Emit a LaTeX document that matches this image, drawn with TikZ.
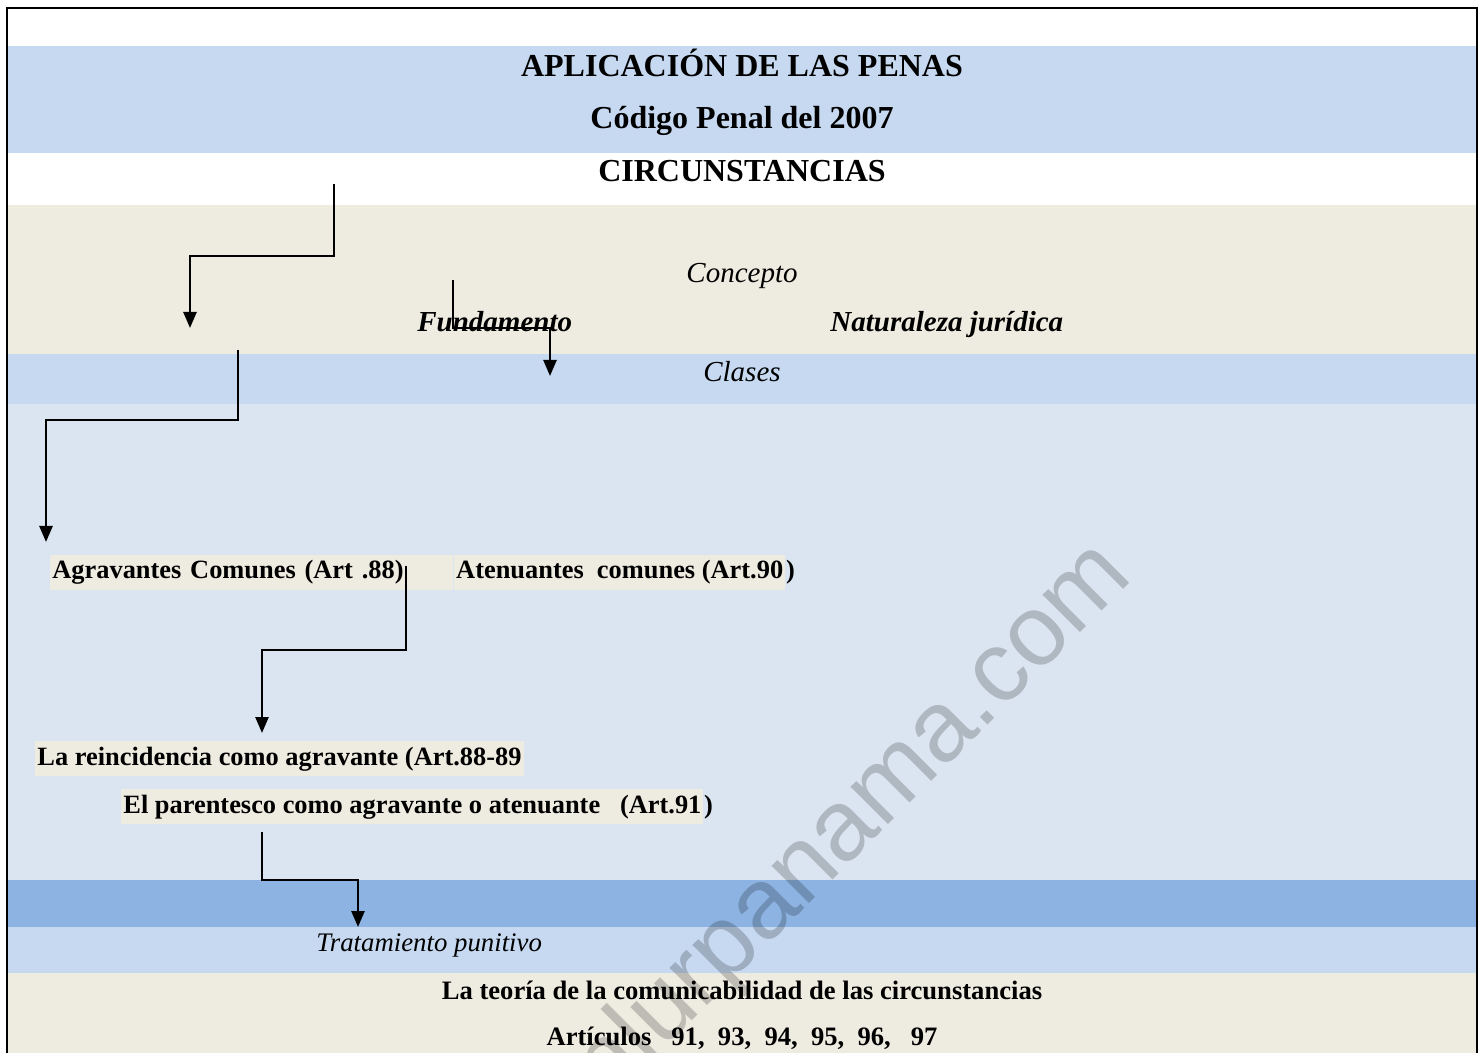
\documentclass[tikz,border=0pt]{standalone}
\usepackage{fontspec}
\setmainfont{Liberation Serif}
\setsansfont{Liberation Sans}
\usetikzlibrary{arrows.meta,positioning}
\definecolor{bandblue}{HTML}{C6D9F1}
\definecolor{paleblue}{HTML}{DBE5F1}
\definecolor{midblue}{HTML}{8DB3E2}
\definecolor{beige}{HTML}{EEECE1}
\tikzset{>={Triangle[width=6.5pt,length=8pt]}}

\begin{document}
\begin{tikzpicture}[x=0.5pt,y=-0.5pt]
	\tikzset{title/.style={font=\fontsize{16}{19}\selectfont\bfseries, anchor=base, inner sep=0pt},
		topic/.style={font=\fontsize{14.5}{17}\selectfont\itshape, anchor=base, inner sep=0pt},
		btopic/.style={topic, font=\fontsize{14.5}{17}\selectfont\bfseries\itshape, anchor=base west},
		item/.style={font=\fontsize{13.2}{16}\selectfont\bfseries, anchor=base west, fill=beige,
			inner xsep=1pt, inner ysep=2pt, text height=10pt, text depth=3.5pt},
		link/.style={->, line width=1.25pt},
	}
	\clip (0,0) rectangle (1484,1053);
	
	% bands
	\fill[bandblue] (7,46) rectangle (1477,153);
	\fill[beige] (7,205) rectangle (1477,354);
	\fill[bandblue] (7,354) rectangle (1477,404);
	\fill[paleblue] (7,404) rectangle (1477,880);
	\fill[midblue] (7,880) rectangle (1477,927);
	\fill[bandblue] (7,927) rectangle (1477,973);
	\fill[beige] (7,973) rectangle (1477,1053);
	\draw[line width=1.25pt] (7,8) rectangle (1477,1080);
	
	\node [title] (t1) at (742,77) {APLICACIÓN DE LAS PENAS};
	\node [title] (t2) at (742,129) {Código Penal del 2007};
	\node [title] (t3) at (742,182) {CIRCUNSTANCIAS};
	
	\node [topic] (c1) at (742,283) {Concepto};
	\node [btopic] (c2) at (417,332) {Fundamento};
	\node [btopic] (c3) at (830,332) {Naturaleza jurídica};
	\node [topic] (c4) at (742,382) {Clases};
	
	\node [item, text width=199.5pt, align=left] (k1) at (50,579) {Agravantes Comunes (Art .88)};
	\node [item, right = 0pt of k1] (k2) {Atenuantes\ \ comunes (Art.90};
	\node [item, fill=none, inner xsep=0pt, right = 0pt of k2] (k2p) {)};
	\node [item] (k3) at (35,765) {La reincidencia como agravante (Art.88-89};
	\node [item] (k4) at (121,813) {El parentesco como agravante o atenuante\ \ \ (Art.91};
	\node [item, fill=none, inner xsep=0pt, right = 0pt of k4] (k4p) {)};
	
	\node [topic, anchor=base west, font=\fontsize{13.4}{16}\selectfont\itshape] (p1) at (316,951) {Tratamiento punitivo};
	\node [title, font=\fontsize{13.3}{16}\selectfont\bfseries] (p2) at (742,999) {La teoría de la comunicabilidad de las circunstancias};
	\node [title, font=\fontsize{13.3}{16}\selectfont\bfseries] (p3) at (742,1045) {Artículos\ \ \ 91,\ \ 93,\ \ 94,\ \ 95,\ \ 96,\ \ \ 97};
	
	\coordinate (s1) at (334,184); \coordinate (m1) at (190,256); \coordinate (e1) at (190,328);
	\coordinate (s2) at (453,280); \coordinate (m2) at (550,328); \coordinate (e2) at (550,376);
	\coordinate (s3) at (238,350); \coordinate (m3) at (46,420);  \coordinate (e3) at (46,542);
	\coordinate (s4) at (406,566); \coordinate (m4) at (262,650); \coordinate (e4) at (262,733);
	\coordinate (s5) at (262,832); \coordinate (m5) at (358,880); \coordinate (e5) at (358,927);
	\foreach \i in {1,...,5}
		\draw [link] (s\i) |- (m\i) -- (e\i);
	
	\node [rotate=45, anchor=base east, inner sep=0pt, font=\sffamily\fontsize{50}{50}\selectfont,
		text=black, text opacity=0.2] (wm) at (1135,578) {nlurpanama.com};
\end{tikzpicture}
\end{document}
